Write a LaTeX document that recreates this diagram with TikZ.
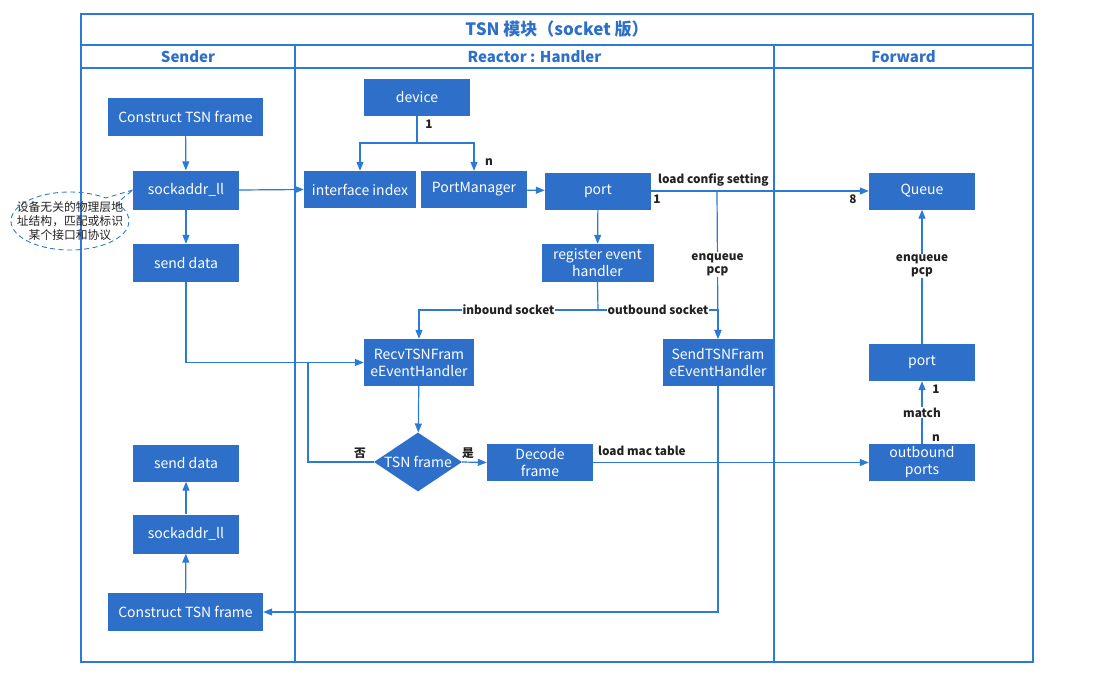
\documentclass[tikz,border=0pt]{standalone}
\usepackage{fontspec}
\setmainfont{Noto Sans CJK SC}
\usetikzlibrary{shapes.geometric,shapes.callouts,arrows.meta,positioning}
\definecolor{tsnbox}{RGB}{46,111,201}
\definecolor{tsnline}{RGB}{42,122,214}
\definecolor{tsnlabel}{RGB}{34,34,34}

\begin{document}
\begin{tikzpicture}[
    x=1pt, y=-1pt,
    % Styles
    lane/.style={draw=tsnline, line width=1.1pt},
    lanehead/.style={font=\bfseries\fontsize{15}{17}\selectfont, text=tsnbox},
    box/.style={
        rectangle, fill=tsnbox, text=white, align=center,
        minimum width=106pt, minimum height=37pt, inner sep=2pt,
        font=\fontsize{14}{17}\selectfont
    },
    decision/.style={
        diamond, fill=tsnbox, text=white, aspect=1.5,
        minimum width=88pt, minimum height=59pt, inner sep=-2pt,
        font=\fontsize{14}{15}\selectfont
    },
    note/.style={
        ellipse callout, draw=tsnline, dash pattern=on 5pt off 3.5pt, line width=0.9pt,
        align=center, inner xsep=-14pt, inner ysep=-6pt,
        minimum width=118pt, minimum height=58pt,
        font=\fontsize{11.8}{14}\selectfont, text=tsnlabel
    },
    wire/.style={draw=tsnline, line width=1.2pt},
    arrow/.style={wire, -{Triangle[length=9pt,width=7pt]}},
    lbl/.style={font=\bfseries\fontsize{11.8}{13.5}\selectfont, text=tsnlabel, inner sep=1pt, align=center},
    onlbl/.style={lbl, fill=white}
]
\useasboundingbox (0,0) rectangle (1096,693);

% Frame
\draw[lane] (81,14) rectangle (1033,662);
\draw[lane] (81,45) -- (1033,45);
\draw[lane] (81,68) -- (1033,68);
\draw[lane] (295,45) -- (295,662);
\draw[lane] (774,45) -- (774,662);

% Title and lane headers
\node[font=\bfseries\fontsize{17}{19}\selectfont, text=tsnbox] (title) at (557,29.5) {TSN 模块（socket 版）};
\node[lanehead] (hsender) at (188,56.5) {Sender};
\node[lanehead] (hreactor) at (534.5,56.5) {Reactor : Handler};
\node[lanehead] (hforward) at (903.5,56.5) {Forward};

% Sender
\node[box, minimum width=155pt, minimum height=38pt] (cons1) at (185.5,117) {Construct TSN frame};
\node[box, minimum height=39pt] (sock1) at (186,190) {sockaddr\_ll};
\node[box, minimum height=38pt] (send1) at (186,263) {send data};

\node[box] (send2) at (186,463) {send data};
\node[box, minimum height=39pt] (sock2) at (186,534) {sockaddr\_ll};
\node[box, minimum width=155pt, minimum height=38pt] (cons2) at (185.5,612) {Construct TSN frame};

\node[note, callout absolute pointer={(sock1.west)}] (llnote) at (70,221) {设备无关的物理层地\\址结构，匹配或标识\\某个接口和协议};

% Reactor : Handler
\node[box] (device) at (417,97.5) {device};
\node[box, minimum width=112pt] (ifidx) at (360,189.5) {interface index};
\node[box] (pmgr) at (474,189.5) {PortManager};
\node[box] (port) at (598,191) {port};
\node[box, minimum width=112pt, minimum height=38pt] (reg) at (597.5,263) {register event\\handler};
\node[box, minimum width=110pt, minimum height=47pt] (recv) at (419,362.5) {RecvTSNFram\\eEventHandler};
\node[box, minimum width=110pt, minimum height=47pt] (send) at (718,362.5) {SendTSNFram\\eEventHandler};
\node[decision] (tsnq) at (418,462) {TSN frame};
\node[box] (decode) at (540,462.5) {Decode\\frame};

% Forward
\node[box] (queue) at (922,191) {Queue};
\node[box] (port2) at (922,362.5) {port};
\node[box] (outp) at (922,462.5) {outbound\\ports};

% Sender flows
\draw[arrow] (cons1) -- (sock1);
\draw[arrow] (sock1) -- (send1);
\draw[arrow] (sock1.east) -- (ifidx.west);
\draw[arrow] (send1.south) |- (recv.west);
\draw[arrow] (cons2) -- (sock2);
\draw[arrow] (sock2) -- (send2);

% Device split
\coordinate (devsplit) at (417,143);
\draw[wire] (device.south) -- (devsplit);
\draw[arrow] (devsplit) -| (ifidx.north);
\draw[arrow] (devsplit) -| (pmgr.north);
\node[lbl] (ldev1) at (429,124) {1};
\node[lbl] (ldevn) at (489,162) {n};

\draw[arrow] (pmgr) -- (port);
\draw[arrow] (port.east) -- (queue.west);
\node[lbl, anchor=south west] (lcfg) at (657,188) {load config setting};
\node[lbl] (lport1) at (657,199) {1};
\node[lbl] (lqueue8) at (853,199) {8};

\coordinate (cfgtap) at (717,191);
\draw[arrow] (cfgtap) -- node[onlbl, pos=0.5] (lpcp1) {enqueue\\pcp} (send.north);

\draw[arrow] (port) -- (reg);
\coordinate (sockfork) at (598,310);
\draw[wire] (reg.south) -- (sockfork);
\draw[arrow] (sockfork) -| node[onlbl, pos=0.25] (lin) {inbound socket} (recv.north);
\draw[arrow] (sockfork) -| node[onlbl, pos=0.25] (lout) {outbound socket} (send.north);

% Decision
\draw[arrow] (recv) -- (tsnq);
\coordinate (nojoin) at (308,362);
\draw[wire] (tsnq.west) -| (nojoin);
\node[lbl] (lno) at (360,453) {否};
\draw[arrow] (tsnq.east) -- (decode.west);
\node[lbl] (lyes) at (468,453) {是};

\draw[arrow] (decode.east) -- (outp.west);
\node[lbl, anchor=west] (lmac) at (597,451) {load mac table};

% Forward flows
\draw[arrow] (outp) -- node[onlbl] (lmatch) {match} (port2);
\node[lbl] (lmatch1) at (936,389) {1};
\node[lbl] (lmatchn) at (936,438) {n};
\draw[arrow] (port2) -- node[onlbl, pos=0.58] (lpcp2) {enqueue\\pcp} (queue);

% Back to sender
\draw[arrow] (send.south) |- (cons2.east);

\end{tikzpicture}
\end{document}
